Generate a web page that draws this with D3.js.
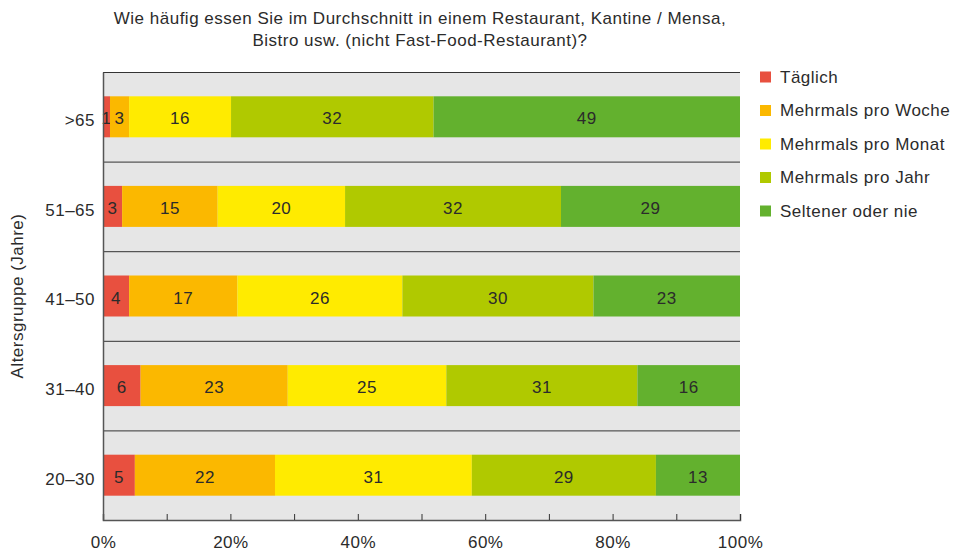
<!DOCTYPE html>
<html><head><meta charset="utf-8">
<script src="https://cdn.jsdelivr.net/npm/d3@7"></script>
<style>body{margin:0;background:#fff}svg{font-family:"Liberation Sans",Arial,sans-serif;letter-spacing:0.5px}</style>
</head><body>
<svg id="c" width="955" height="551"></svg>
<script>
const categories = [">65", "51–65", "41–50", "31–40", "20–30"];
const seriesNames = ["Täglich", "Mehrmals pro Woche", "Mehrmals pro Monat", "Mehrmals pro Jahr", "Seltener oder nie"];
// printed labels (rounded percentages)
const taeglich = [1, 3, 4, 6, 5];
const woche = [3, 15, 17, 23, 22];
const monat = [16, 20, 26, 25, 31];
const jahr = [32, 32, 30, 31, 29];
const selten = [49, 29, 23, 16, 13];
// segment shares as drawn
const taeglichShare = [1.1, 3.0, 4.1, 5.9, 5.0];
const wocheShare = [3.0, 15.0, 17.0, 23.1, 22.0];
const monatShare = [16.0, 20.0, 25.9, 24.9, 30.9];
const jahrShare = [31.8, 33.9, 30.0, 30.0, 28.9];
const seltenShare = [48.1, 28.1, 23.0, 16.1, 13.2];
const colors = ["#e8503f", "#fbb800", "#ffeb00", "#b0c900", "#63b12e"];
const xTicks = [0, 10, 20, 30, 40, 50, 60, 70, 80, 90, 100];
const xTickLabels = [0, 20, 40, 60, 80, 100];
const titleLines = ["Wie häufig essen Sie im Durchschnitt in einem Restaurant, Kantine / Mensa,", "Bistro usw. (nicht Fast-Food-Restaurant)?"];
const yTitle = "Altersgruppe (Jahre)";

const labels = [taeglich, woche, monat, jahr, selten];
const shares = [taeglichShare, wocheShare, monatShare, jahrShare, seltenShare];
const svg = d3.select("#c");
const L = 103, R = 740, T = 72, B = 520;
const FS = 17;
const x = d3.scaleLinear().domain([0, 100]).range([L, R]).clamp(true);
const y = d3.scaleBand().domain(categories).range([T, B]).paddingInner(0).paddingOuter(0);
const barH = 41;
const txt = "#2b2b2b";

svg.append("rect").attr("x", L).attr("y", T).attr("width", R - L).attr("height", B - T).attr("fill", "#e6e6e6");

categories.forEach((c) => {
  svg.append("line").attr("x1", L).attr("x2", R).attr("y1", y(c) + 0.5).attr("y2", y(c) + 0.5)
    .attr("stroke", "#333").attr("stroke-width", 1);
});

categories.forEach((c, i) => {
  let cum = 0;
  shares.forEach((s, k) => {
    const v = s[i];
    const x0 = x(cum), x1 = x(cum + v);
    const yc = y(c) + y.bandwidth() / 2;
    svg.append("rect").attr("x", x0).attr("y", yc - barH / 2).attr("width", x1 - x0).attr("height", barH).attr("fill", colors[k]);
    svg.append("text").attr("x", (x0 + x1) / 2).attr("y", yc + 2).attr("text-anchor", "middle")
      .attr("dominant-baseline", "central").attr("font-size", FS).attr("fill", txt).text(labels[k][i]);
    cum += v;
  });
});

const xAxis = d3.axisBottom(x).tickValues(xTicks).tickSize(-6).tickPadding(16)
  .tickFormat(d => xTickLabels.includes(d) ? d + "%" : "");
const gx = svg.append("g").attr("transform", `translate(0,${B})`).call(xAxis);
gx.select(".domain").attr("stroke", "#555").attr("stroke-width", 1.5);
gx.selectAll(".tick line").attr("stroke", "#333");
gx.selectAll("text").attr("font-size", FS).attr("fill", txt).attr("font-family", "Liberation Sans, Arial, sans-serif");

const yAxis = d3.axisLeft(y).tickSize(0).tickPadding(8);
const gy = svg.append("g").attr("transform", `translate(${L},0)`).call(yAxis);
gy.select(".domain").attr("stroke", "#555").attr("stroke-width", 1.5);
gy.selectAll("text").attr("font-size", FS).attr("fill", txt).attr("dy", "0.55em").attr("font-family", "Liberation Sans, Arial, sans-serif");

svg.append("text").attr("transform", `translate(23,${(T + B) / 2}) rotate(-90)`).attr("text-anchor", "middle")
  .attr("font-size", FS).attr("fill", txt).text(yTitle);

titleLines.forEach((t, i) => {
  svg.append("text").attr("x", 420).attr("y", 24 + i * 22).attr("text-anchor", "middle")
    .attr("font-size", FS).attr("fill", txt).text(t);
});

seriesNames.forEach((n, k) => {
  const ly = 77 + k * 33.5;
  svg.append("rect").attr("x", 760).attr("y", ly - 5.5).attr("width", 11).attr("height", 11).attr("fill", colors[k]);
  svg.append("text").attr("x", 780).attr("y", ly).attr("dominant-baseline", "central")
    .attr("font-size", FS).attr("fill", txt).text(n);
});
</script>
</body></html>
